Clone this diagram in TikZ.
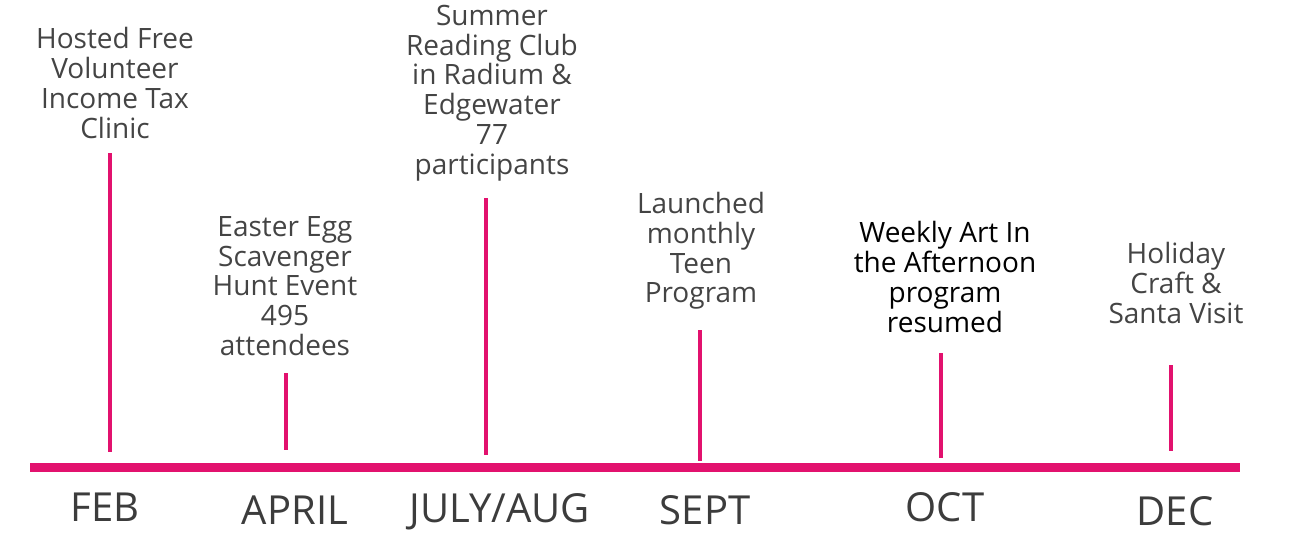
\documentclass[tikz,border=0pt]{standalone}
\usepackage{fontspec}
\setmainfont{Open Sans}
\definecolor{pinkline}{RGB}{226,17,110}
\definecolor{txtgray}{RGB}{68,68,68}
\definecolor{mongray}{RGB}{60,60,60}
\begin{document}
\begin{tikzpicture}[x=1pt,y=-1pt,
  evtext/.style={align=center,inner sep=0pt,text=txtgray,font=\fontsize{28}{29.7}\selectfont},
  montext/.style={inner sep=0pt,text=mongray,font=\fontsize{40}{42}\selectfont},
  tick/.style={draw=pinkline,line width=4pt},
  bar/.style={draw=pinkline,line width=9pt}]
\useasboundingbox (0,0) rectangle (1290,535);
% main bar
\coordinate (barL) at (30,467);
\coordinate (barR) at (1240,467);
\draw[bar] (barL) -- (barR);
% ticks
\coordinate (t1a) at (110,153); \coordinate (t1b) at (110,452);
\coordinate (t2a) at (286,373); \coordinate (t2b) at (286,450);
\coordinate (t3a) at (486,198); \coordinate (t3b) at (486,455);
\coordinate (t4a) at (700,330); \coordinate (t4b) at (700,461);
\coordinate (t5a) at (941,353); \coordinate (t5b) at (941,458);
\coordinate (t6a) at (1171,365); \coordinate (t6b) at (1171,451);
\draw[tick] (t1a) -- (t1b);
\draw[tick] (t2a) -- (t2b);
\draw[tick] (t3a) -- (t3b);
\draw[tick] (t4a) -- (t4b);
\draw[tick] (t5a) -- (t5b);
\draw[tick] (t6a) -- (t6b);
% event labels
\node[evtext] (e1) at (115,83) {Hosted Free\\Volunteer\\Income Tax\\Clinic};
\node[evtext] (e2) at (285,286) {Easter Egg\\Scavenger\\Hunt Event\\495\\attendees};
\node[evtext] (e3) at (492,93) {Summer\\Reading Club\\in Radium \&\\Edgewater\\77\\participants};
\node[evtext] (e4) at (701,251) {Launched\\monthly\\Teen\\Program};
\node[evtext,text=black] (e5) at (945,277) {Weekly Art In\\the Afternoon\\program\\resumed};
\node[evtext] (e6) at (1176,283) {Holiday\\Craft \&\\Santa Visit};
% month labels
\node[montext] (m1) at (105,507) {FEB};
\node[montext] (m2) at (295,510) {APRIL};
\node[montext] (m3) at (500,512) {JULY/AUG};
\node[montext] (m4) at (705,510) {SEPT};
\node[montext] (m5) at (945,507) {OCT};
\node[montext] (m6) at (1175,511) {DEC};
\end{tikzpicture}
\end{document}
